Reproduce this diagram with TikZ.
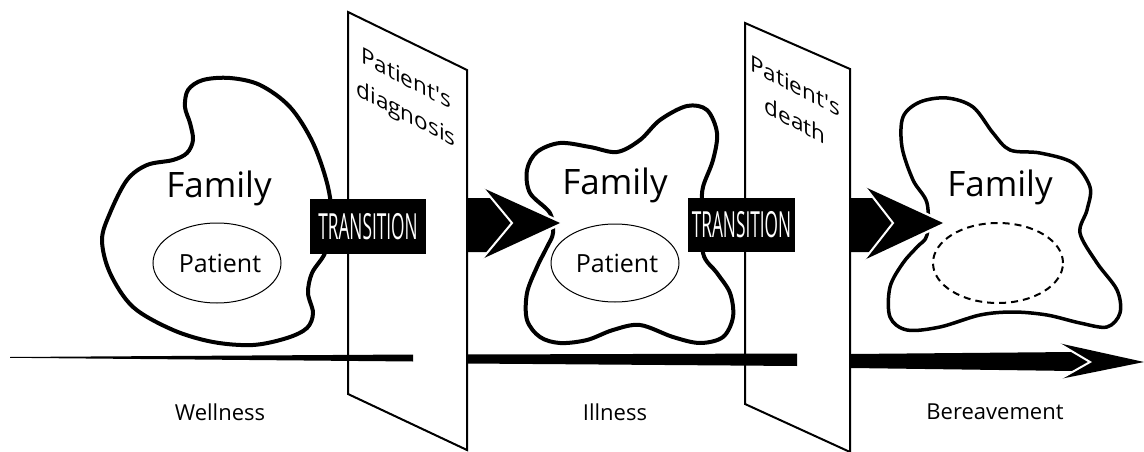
\documentclass[tikz,border=0pt]{standalone}
\usepackage{fontspec}
\usepackage{graphicx}
\usetikzlibrary{shapes.geometric}
\setmainfont{Open Sans}[Ligatures=TeXOff]
\begin{document}
\begin{tikzpicture}[x=1pt,y=-1pt,
  blob/.style={line width=4pt, line join=round},
  panel/.style={line width=2pt, line join=miter},
  famtext/.style={font=\fontsize{35}{35}\selectfont},
  pattext/.style={font=\fontsize{25}{25}\selectfont},
  phasetext/.style={font=\fontsize{22}{22}\selectfont},
  paneltext/.style={font=\fontsize{22.5}{35}\selectfont, align=center, yslant=-0.52},
  transbox/.style={fill=black, text=white, inner sep=0pt},
  halo/.style={draw=white, line width=5pt, line join=round},
  gap/.style={draw=white, line width=2pt, line join=miter}
]
\useasboundingbox (0,0) rectangle (1144,452);

% panels
\draw[panel] (348,12) -- (467,70) -- (467,450) -- (348,394) -- cycle;
\draw[panel] (745,23) -- (850,69) -- (850,452) -- (745,404) -- cycle;
\node[paneltext] (diag) at (406,98) {Patient's\\diagnosis};
\node[paneltext] (death) at (795,103) {Patient's\\death};

% timeline
\fill (10,357) -- (413,354.5) -- (413,361.5) -- (10,357.8) -- cycle;
\fill (467,354.5) -- (797,353.5) -- (797,366) -- (467,363.5) -- cycle;
\fill (851,354) -- (1073,352) -- (1090,362) -- (1073,371) -- (851,368) -- cycle;
\fill (1058,343) -- (1144,362) -- (1060,379) -- (1090,362) -- cycle;
\draw[gap] (1058,343) -- (1090,362) -- (1060,379);

% blob 1 (wellness)
\draw[blob] plot[smooth cycle, tension=0.55] coordinates {
 (110,213) (127,180) (147,165) (173,160) (187,153) (193,140) (190,123)
 (185,107) (188,90) (203,80) (230,78) (260,85) (290,107) (313,143)
 (328,187) (332,225) (325,253) (312,273) (308,293) (313,313) (307,328)
 (287,338) (253,345) (213,342) (173,330) (133,307) (110,273) (102,240)};
\node[famtext] (fam1) at (219,188) {Family};
\node[draw, line width=1pt, ellipse, minimum width=128pt, minimum height=80pt] (pat1) at (217,263) {};
\node[pattext] (pt1) at (220,263) {Patient};

% blob 2 (illness)
\draw[blob] plot[smooth cycle, tension=0.55] coordinates {
 (550,213) (530,193) (527,170) (537,152) (560,143) (590,147) (617,152)
 (640,140) (660,120) (687,106) (707,110) (717,133) (713,160) (703,187)
 (702,207) (703,253) (717,273) (730,293) (733,317) (723,337) (700,343)
 (673,337) (640,325) (613,330) (587,340) (560,343) (540,337) (527,320)
 (527,293) (537,267) (547,247) (553,233)};
\node[famtext] (fam2) at (615,185) {Family};
\node[draw, line width=1pt, ellipse, minimum width=128pt, minimum height=78pt] (pat2) at (615,263) {};
\node[pattext] (pt2) at (617,263) {Patient};

% blob 3 (bereavement)
\draw[line width=3.5pt, line join=round] plot[smooth cycle, tension=0.55] coordinates {
 (927,203) (913,180) (902,147) (903,117) (920,102) (947,98) (973,107)
 (993,133) (1010,150) (1040,153) (1073,163) (1090,187) (1087,210)
 (1080,233) (1097,263) (1117,290) (1120,313) (1107,327) (1080,323)
 (1047,315) (1013,312) (980,315) (940,327) (907,330) (890,317) (890,287)
 (903,263) (917,247) (927,235)};
\node[famtext] (fam3) at (1000,187) {Family};
\node[draw, line width=2pt, dash pattern=on 7pt off 5pt, ellipse, minimum width=130pt, minimum height=80pt] (pat3) at (998,263) {};

% transition arrows
\draw[halo] (483,188) -- (560,223) -- (482,259) -- (512,223) -- cycle;
\fill (467,198) -- (491,198) -- (512,223) -- (488,252) -- (467,252) -- cycle;
\fill (483,188) -- (560,223) -- (482,259) -- (512,223) -- cycle;
\draw[gap] (483,188) -- (512,223) -- (482,259);

\draw[halo] (865,187) -- (943,223) -- (864,260) -- (893,223) -- cycle;
\fill (850,198) -- (874,198) -- (893,223) -- (871,252) -- (850,252) -- cycle;
\fill (865,187) -- (943,223) -- (864,260) -- (893,223) -- cycle;
\draw[gap] (865,187) -- (893,223) -- (864,260);

% transition boxes
\node[transbox, minimum width=116pt, minimum height=55pt] (t1) at (368,226.5)
  {\scalebox{0.48}[1]{\fontsize{36}{36}\selectfont TRANSITION}};
\node[transbox, minimum width=107pt, minimum height=54pt] (t2) at (741.5,225)
  {\scalebox{0.48}[1]{\fontsize{36}{36}\selectfont TRANSITION}};

% phase labels
\node[phasetext] (well) at (220,412) {Wellness};
\node[phasetext] (ill) at (615,412) {Illness};
\node[phasetext] (ber) at (995,412) {Bereavement};
\end{tikzpicture}
\end{document}
